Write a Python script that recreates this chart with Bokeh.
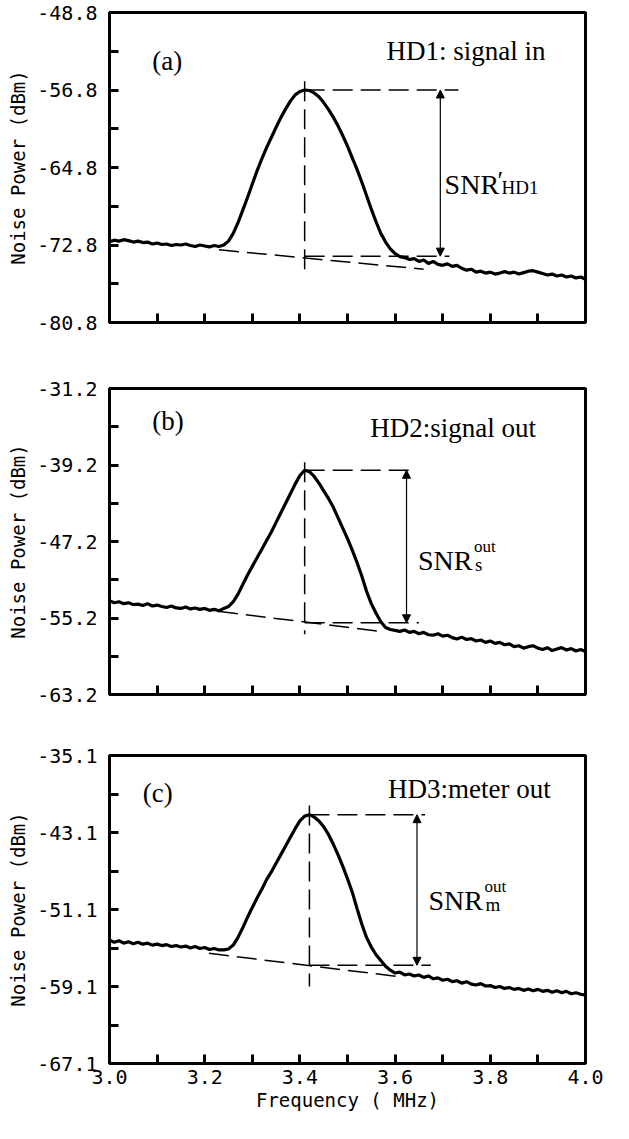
from bokeh.plotting import figure
from bokeh.layouts import column
from bokeh.models import Range1d, FixedTicker, Arrow, NormalHead, Label
from bokeh.embed import file_html
from bokeh.resources import INLINE

# ---------------- data ----------------
freq = [3.00, 3.01, 3.02, 3.03, 3.04, 3.05, 3.06, 3.07, 3.08, 3.09,
        3.10, 3.11, 3.12, 3.13, 3.14, 3.15, 3.16, 3.17, 3.18, 3.19,
        3.20, 3.21, 3.22, 3.23, 3.24, 3.25, 3.26, 3.27, 3.28, 3.29,
        3.30, 3.31, 3.32, 3.33, 3.34, 3.35, 3.36, 3.37, 3.38, 3.39,
        3.40, 3.41, 3.42, 3.43, 3.44, 3.45, 3.46, 3.47, 3.48, 3.49,
        3.50, 3.51, 3.52, 3.53, 3.54, 3.55, 3.56, 3.57, 3.58, 3.59,
        3.60, 3.61, 3.62, 3.63, 3.64, 3.65, 3.66, 3.67, 3.68, 3.69,
        3.70, 3.71, 3.72, 3.73, 3.74, 3.75, 3.76, 3.77, 3.78, 3.79,
        3.80, 3.81, 3.82, 3.83, 3.84, 3.85, 3.86, 3.87, 3.88, 3.89,
        3.90, 3.91, 3.92, 3.93, 3.94, 3.95, 3.96, 3.97, 3.98, 3.99, 4.00]

power_a = [-72.45, -72.30, -72.40, -72.25, -72.35, -72.50, -72.40, -72.55, -72.50, -72.70,
           -72.60, -72.75, -72.70, -72.85, -72.75, -72.80, -72.70, -72.85, -72.95, -72.80,
           -72.90, -73.00, -72.85, -72.95, -72.80, -72.40, -71.60, -70.50, -69.20, -67.90,
           -66.50, -65.15, -63.90, -62.75, -61.70, -60.65, -59.65, -58.75, -57.95, -57.30,
           -56.95, -56.80, -56.85, -57.10, -57.50, -58.10, -58.80, -59.60, -60.50, -61.50,
           -62.60, -63.80, -65.00, -66.30, -67.70, -69.10, -70.40, -71.60, -72.50, -73.20,
           -73.70, -74.00, -74.10, -74.30, -74.20, -74.50, -74.35, -74.70, -74.50, -74.80,
           -74.90, -74.75, -75.00, -74.90, -75.20, -75.40, -75.30, -75.60, -75.50, -75.70,
           -75.60, -75.80, -75.70, -75.55, -75.70, -75.60, -75.80, -75.65, -75.50, -75.45,
           -75.60, -75.75, -75.90, -75.80, -76.00, -75.90, -76.10, -76.00, -76.20, -76.10, -76.35]

power_b = [-53.40, -53.60, -53.50, -53.70, -53.60, -53.80, -53.75, -53.90, -53.70, -53.95,
           -53.85, -54.00, -54.10, -53.95, -54.15, -54.20, -54.05, -54.25, -54.15, -54.30,
           -54.20, -54.40, -54.30, -54.45, -54.20, -54.00, -53.50, -52.70, -51.70, -50.70,
           -49.80, -48.90, -48.00, -47.10, -46.20, -45.20, -44.20, -43.20, -42.20, -41.20,
           -40.30, -39.75, -39.90, -40.40, -41.10, -41.90, -42.70, -43.60, -44.70, -45.80,
           -46.90, -48.10, -49.40, -50.80, -52.40, -53.70, -54.70, -55.60, -56.20, -56.40,
           -56.50, -56.60, -56.45, -56.70, -56.60, -56.85, -56.70, -56.95, -57.00, -56.85,
           -57.10, -57.00, -57.25, -57.40, -57.20, -57.45, -57.35, -57.60, -57.50, -57.75,
           -57.60, -57.85, -57.75, -58.00, -57.90, -58.20, -58.10, -58.35, -58.20, -58.10,
           -58.35, -58.50, -58.30, -58.60, -58.45, -58.30, -58.55, -58.40, -58.65, -58.50, -58.70]

power_c = [-54.30, -54.50, -54.35, -54.60, -54.45, -54.65, -54.50, -54.70, -54.60, -54.80,
           -54.70, -54.85, -54.75, -54.95, -54.85, -55.00, -54.90, -55.10, -54.95, -55.15,
           -55.05, -55.25, -55.15, -55.30, -55.30, -55.20, -54.80, -54.00, -53.00, -51.90,
           -50.90, -49.90, -49.00, -48.00, -47.20, -46.30, -45.40, -44.50, -43.60, -42.70,
           -41.90, -41.40, -41.25, -41.50, -41.90, -42.50, -43.30, -44.30, -45.40, -46.60,
           -47.90, -49.30, -51.00, -52.60, -54.00, -55.00, -55.80, -56.40, -57.00, -57.40,
           -57.70, -57.60, -57.90, -57.80, -58.00, -57.90, -58.15, -58.00, -58.30, -58.20,
           -58.45, -58.35, -58.60, -58.50, -58.75, -58.60, -58.85, -58.95, -58.80, -59.05,
           -59.00, -59.20, -59.10, -59.30, -59.20, -59.40, -59.30, -59.50, -59.35, -59.55,
           -59.40, -59.60, -59.50, -59.70, -59.55, -59.75, -59.60, -59.85, -59.75, -59.90, -60.00]

y_lows = [-80.8, -63.2, -67.1]
y_highs = [-48.8, -31.2, -35.1]
panel_tags = ["(a)", "(b)", "(c)"]
panel_titles = ["HD1: signal in", "HD2:signal out", "HD3:meter out"]
snr_sub = ["HD1", "s", "m"]
snr_sup = ["′", "out", "out"]

# annotation values
base_levels = [-73.95, -55.7, -56.9]
fit_x = [[3.23, 3.66], [3.228, 3.57], [3.209, 3.603]]
fit_y = [[-73.3, -75.3], [-54.5, -56.6], [-55.65, -58.05]]
arrow_x = [3.695, 3.624, 3.646]
top_end = [3.733, 3.641, 3.663]
bottom_end = [3.714, 3.65, 3.675]
vline_top = [-55.9, -38.9, -40.3]
vline_bottom = [-75.3, -56.9, -59.1]

x_ticks = [3.0, 3.1, 3.2, 3.3, 3.4, 3.5, 3.6, 3.7, 3.8, 3.9, 4.0]
x_tick_labels = ["3.0", "", "3.2", "", "3.4", "", "3.6", "", "3.8", "", "4.0"]

# ---------------- layout / style ----------------
AX_FONT = "DejaVu Sans Mono"
TX_FONT = "Liberation Serif"
heights = [352, 372, 394]
tops = [12, 36, 31]
bottoms = [30, 30, 55]
tag_pos = [(3.09, -53.8), (3.09, -34.6), (3.07, -39.0)]
title_pos = [(3.582, -52.8), (3.548, -35.3), (3.585, -38.6)]
snr_pos = [(3.704, -66.6), (3.648, -49.2), (3.67, -50.2)]

powers = [power_a, power_b, power_c]
figs = []
for i in range(3):
    lo, hi = y_lows[i], y_highs[i]
    p = figure(width=610, height=heights[i],
               x_range=Range1d(3.0, 4.0), y_range=Range1d(lo, hi),
               output_backend="svg", toolbar_location=None,
               min_border_left=109, min_border_right=25,
               min_border_top=tops[i], min_border_bottom=bottoms[i])
    p.grid.visible = False
    p.outline_line_color = "black"
    p.outline_line_width = 3
    p.background_fill_color = "white"
    p.border_fill_color = "white"

    yt = [round(lo + 4 * k, 1) for k in range(9)]
    p.yaxis.ticker = FixedTicker(ticks=yt)
    p.yaxis.major_label_overrides = {t: (f"{t:.1f}" if k % 2 == 0 else "") for k, t in enumerate(yt)}
    p.xaxis.ticker = FixedTicker(ticks=x_ticks)
    if i == 2:
        p.xaxis.major_label_overrides = {t: l for t, l in zip(x_ticks, x_tick_labels)}
        p.xaxis.axis_label = "Frequency ( MHz)"
    else:
        p.xaxis.major_label_overrides = {t: "" for t in x_ticks}
    p.yaxis.axis_label = "Noise Power (dBm)"

    for ax in (p.xaxis[0], p.yaxis[0]):
        ax.axis_line_width = 3
        ax.axis_line_color = "black"
        ax.major_tick_in = 9
        ax.major_tick_out = 0
        ax.major_tick_line_width = 3
        ax.major_tick_line_color = "black"
        ax.minor_tick_line_color = None
        ax.major_label_text_font = AX_FONT
        ax.major_label_text_font_size = "20px"
        ax.major_label_text_color = "black"
        ax.axis_label_text_font = AX_FONT
        ax.axis_label_text_font_size = "19px"
        ax.axis_label_text_font_style = "normal"
        ax.axis_label_text_color = "black"
    p.yaxis.major_label_standoff = 12
    p.yaxis.axis_label_standoff = 5
    p.xaxis.major_label_standoff = 6
    p.xaxis.axis_label_standoff = 2

    pw = powers[i]
    p.line(freq, pw, line_color="black", line_width=3.2)

    k = pw.index(max(pw))
    px, py = freq[k], pw[k]
    dash = dict(line_color="black", line_width=1.5, line_dash="20 8")
    p.line([px, px], [vline_top[i], vline_bottom[i]], **dash)
    p.line([px, top_end[i]], [py, py], **dash)
    p.line([px, bottom_end[i]], [base_levels[i], base_levels[i]], **dash)
    p.line(fit_x[i], fit_y[i], **dash)
    p.add_layout(Arrow(start=NormalHead(size=8, fill_color="black", line_color="black"),
                       end=NormalHead(size=8, fill_color="black", line_color="black"),
                       x_start=arrow_x[i], y_start=base_levels[i],
                       x_end=arrow_x[i], y_end=py, line_width=1.2, line_color="black"))

    lab = dict(text_font=TX_FONT, text_color="black")
    p.add_layout(Label(x=tag_pos[i][0], y=tag_pos[i][1], text=panel_tags[i],
                       text_font_size="27px", text_baseline="middle", **lab))
    p.add_layout(Label(x=title_pos[i][0], y=title_pos[i][1], text=panel_titles[i],
                       text_font_size="27px", text_baseline="middle", **lab))
    sx, sy = snr_pos[i]
    p.add_layout(Label(x=sx, y=sy, text="SNR",
                       text_font_size="28px", text_baseline="alphabetic", **lab))
    if i == 0:
        p.add_layout(Label(x=sx, y=sy, x_offset=53, y_offset=4, text=snr_sup[i],
                           text_font_size="26px", text_baseline="alphabetic", **lab))
        p.add_layout(Label(x=sx, y=sy, x_offset=57, y_offset=-3, text=snr_sub[i],
                           text_font_size="19px", text_baseline="alphabetic", **lab))
    else:
        p.add_layout(Label(x=sx, y=sy, x_offset=56, y_offset=14, text=snr_sup[i],
                           text_font_size="17px", text_baseline="alphabetic", **lab))
        p.add_layout(Label(x=sx, y=sy, x_offset=57, y_offset=-4, text=snr_sub[i],
                           text_font_size="19px", text_baseline="alphabetic", **lab))
    figs.append(p)

layout = column(*figs, spacing=0)
open("out.html", "w").write(file_html(layout, INLINE))
